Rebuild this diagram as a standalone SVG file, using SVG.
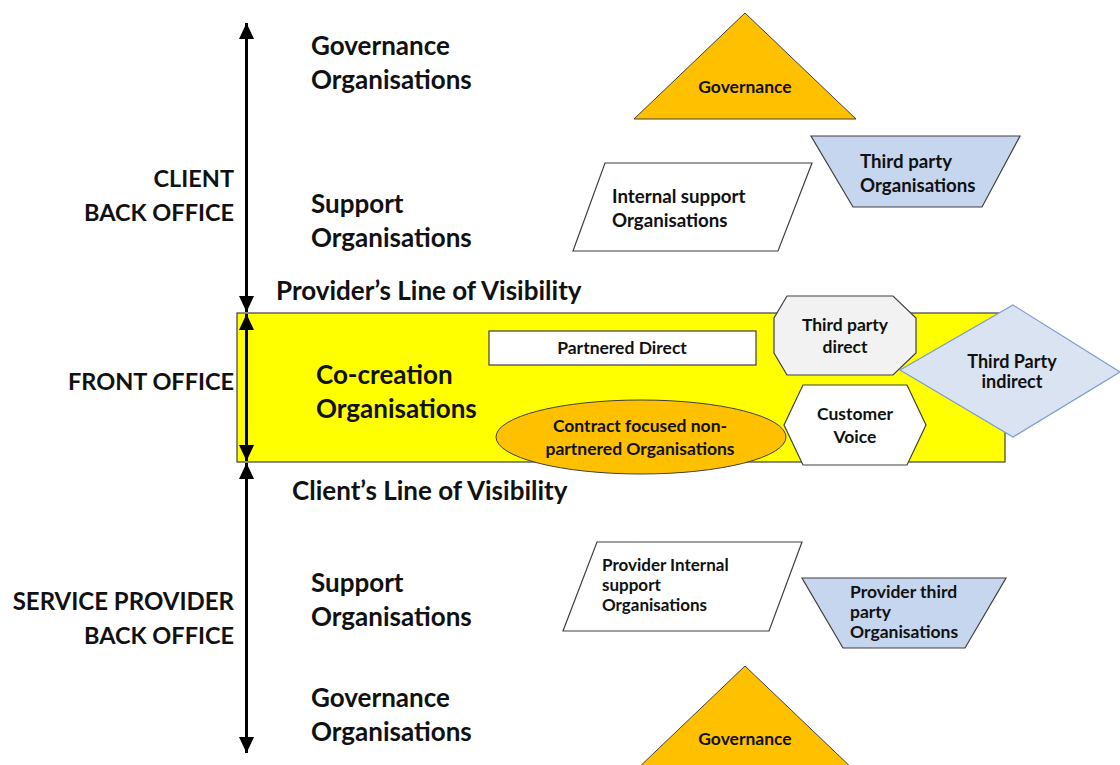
<svg xmlns="http://www.w3.org/2000/svg" width="1120" height="765" viewBox="0 0 1120 765">
  <defs>
    <marker id="head" viewBox="0 0 16 15" refX="16" refY="7.5" markerWidth="16" markerHeight="15" markerUnits="userSpaceOnUse" orient="auto-start-reverse">
      <path d="M0,0 L16,7.5 L0,15 Z" fill="#000"/>
    </marker>
    <style>
      text { font-family: Lato, "Liberation Sans", sans-serif; font-weight: bold; fill: #111; }
      .big { font-size: 26px; }
      .caps { font-size: 23.5px; }
      .sm { font-size: 17.5px; }
      .lg { font-size: 18.7px; }
      .tight { font-size: 17px; }
      .mid { text-anchor: middle; }
      .end { text-anchor: end; }
      .edge { stroke: #000; stroke-width: 3; fill: none; marker-start: url(#head); marker-end: url(#head); }
      .gov { fill: #ffc000; stroke: #404040; stroke-width: 1; }
      .plain { fill: #fff; stroke: #404040; stroke-width: 1.2; }
      .blue { fill: #c6d6ee; stroke: #404040; stroke-width: 1.2; }
    </style>
  </defs>
  <rect width="1120" height="765" fill="#fff"/>

  <!-- front office band -->
  <g id="front-office-band">
    <rect x="237" y="313" width="768" height="149" fill="#ffff00" stroke="#404040" stroke-width="1.2"/>
  </g>

  <!-- vertical extent arrows -->
  <g id="connectors">
    <line class="edge" x1="246.5" y1="23" x2="246.5" y2="312"/>
    <line class="edge" x1="246.5" y1="314" x2="246.5" y2="461"/>
    <line class="edge" x1="246.5" y1="463" x2="246.5" y2="753"/>
  </g>

  <!-- side labels -->
  <g id="client-back-office">
    <text class="caps end" x="234" y="187">CLIENT</text>
    <text class="caps end" x="234" y="221">BACK OFFICE</text>
  </g>
  <g id="front-office">
    <text class="caps end" x="234" y="390">FRONT OFFICE</text>
  </g>
  <g id="provider-back-office">
    <text class="caps end" x="234" y="610" style="font-size:24px">SERVICE PROVIDER</text>
    <text class="caps end" x="234" y="644">BACK OFFICE</text>
  </g>

  <!-- tier labels -->
  <g id="tier-client-governance">
    <text class="big" x="311" y="55">Governance</text>
    <text class="big" x="311" y="89">Organisations</text>
  </g>
  <g id="tier-client-support">
    <text class="big" x="311" y="213">Support</text>
    <text class="big" x="311" y="247">Organisations</text>
  </g>
  <g id="provider-visibility">
    <text class="big" x="276" y="300">Provider’s Line of Visibility</text>
  </g>
  <g id="tier-cocreation">
    <text class="big" x="316" y="384">Co-creation</text>
    <text class="big" x="316" y="418">Organisations</text>
  </g>
  <g id="client-visibility">
    <text class="big" x="292" y="500">Client’s Line of Visibility</text>
  </g>
  <g id="tier-provider-support">
    <text class="big" x="311" y="592">Support</text>
    <text class="big" x="311" y="626">Organisations</text>
  </g>
  <g id="tier-provider-governance">
    <text class="big" x="311" y="707">Governance</text>
    <text class="big" x="311" y="741">Organisations</text>
  </g>

  <!-- client back office shapes -->
  <g id="client-governance">
    <polygon class="gov" points="745,13 856,119 634,119"/>
    <text class="sm mid" x="745" y="93">Governance</text>
  </g>
  <g id="internal-support">
    <polygon class="plain" points="605,163 812,163 778,251 573,251"/>
    <text class="lg" x="612" y="203">Internal support</text>
    <text class="lg" x="612" y="227">Organisations</text>
  </g>
  <g id="third-party-orgs">
    <polygon class="blue" points="811,136 1020,136 982,207 853,207"/>
    <text class="lg" x="860" y="168">Third party</text>
    <text class="lg" x="860" y="192">Organisations</text>
  </g>

  <!-- front office shapes -->
  <g id="partnered-direct">
    <rect x="489" y="331" width="267" height="34" fill="#fff" stroke="#404040" stroke-width="1.2"/>
    <text class="sm mid" x="622" y="354">Partnered Direct</text>
  </g>
  <g id="contract-focused">
    <ellipse cx="641" cy="437" rx="145" ry="37" class="gov"/>
    <text class="sm mid" x="640" y="432">Contract focused non-</text>
    <text class="sm mid" x="640" y="455">partnered Organisations</text>
  </g>
  <g id="third-party-direct">
    <polygon points="787,296 893,296 916,318 916,353 893,375 787,375 774,353 774,318" fill="#f2f2f2" stroke="#404040" stroke-width="1.2"/>
    <text class="sm mid" x="845" y="331">Third party</text>
    <text class="sm mid" x="845" y="353">direct</text>
  </g>
  <g id="customer-voice">
    <polygon points="803,385 907,385 926,425 907,465 803,465 784,425" fill="#fff" stroke="#404040" stroke-width="1.2"/>
    <text class="sm mid" x="855" y="420">Customer</text>
    <text class="sm mid" x="855" y="443">Voice</text>
  </g>
  <g id="third-party-indirect">
    <polygon points="1013,305 1120,372 1013,437 900,370" fill="#dae3f2" stroke="#7c9cd0" stroke-width="1.2"/>
    <text class="mid" style="font-size:18px" x="1012" y="368">Third Party</text>
    <text class="mid" style="font-size:18px" x="1012" y="388">indirect</text>
  </g>

  <!-- provider back office shapes -->
  <g id="provider-internal-support">
    <polygon class="plain" points="597,542 802,542 769,631 563,631"/>
    <text class="tight" x="602" y="571">Provider Internal</text>
    <text class="tight" x="602" y="591">support</text>
    <text class="tight" x="602" y="611">Organisations</text>
  </g>
  <g id="provider-third-party">
    <polygon class="blue" points="802,578 1006,578 965,648 843,648"/>
    <text class="sm" x="850" y="598">Provider third</text>
    <text class="sm" x="850" y="618">party</text>
    <text class="sm" x="850" y="638">Organisations</text>
  </g>
  <g id="provider-governance">
    <polygon class="gov" points="745,666 856,772 634,772"/>
    <text class="sm mid" x="745" y="745">Governance</text>
  </g>
</svg>
